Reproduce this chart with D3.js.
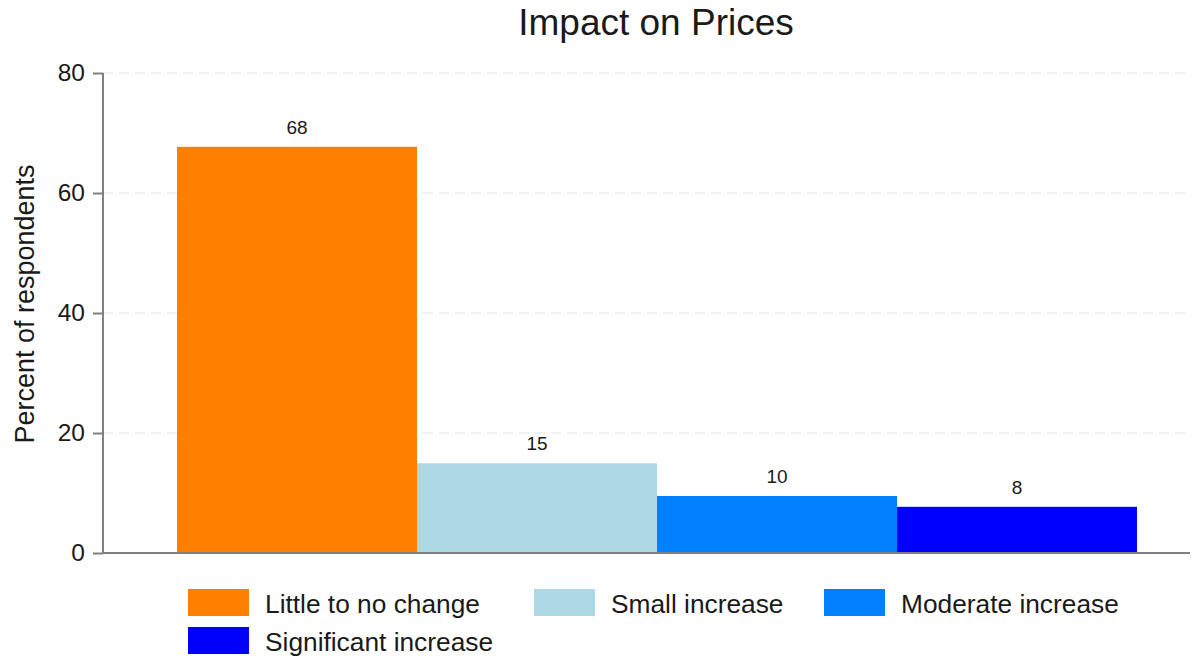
<!DOCTYPE html>
<html>
<head>
<meta charset="utf-8">
<script src="https://cdn.jsdelivr.net/npm/d3@7"></script>
<style>
  body { margin: 0; background: #fff; }
  text { font-family: "Liberation Sans", Arial, sans-serif; fill: #1a1a1a; }
</style>
</head>
<body>
<div id="chart"></div>
<script>
// data
var categories = ["Little to no change", "Small increase", "Moderate increase", "Significant increase"];
var values = [67.7, 14.95, 9.5, 7.7];
var colors = ["#ff7f00", "#add8e6", "#0080ff", "#0000ff"];
var yTicks = [0, 20, 40, 60, 80];

var W = 1192, H = 658;
var svg = d3.select("#chart").append("svg")
    .attr("width", W)
    .attr("height", H);

// plot region
var plotLeft = 103, plotRight = 1190, plotTop = 73, plotBottom = 553;

var x = d3.scaleBand().domain(categories).range([177, 1137]).padding(0);
var y = d3.scaleLinear().domain([0, 80]).range([plotBottom, plotTop]);

// gridlines
svg.append("g")
  .selectAll("line")
  .data(yTicks.filter(function(d) { return d > 0; }))
  .enter().append("line")
    .attr("x1", plotLeft).attr("x2", plotRight)
    .attr("y1", function(d) { return y(d); })
    .attr("y2", function(d) { return y(d); })
    .attr("stroke", "#ebebeb")
    .attr("stroke-width", 1.5)
    .attr("stroke-dasharray", "10,6");

// bars
svg.append("g")
  .selectAll("rect")
  .data(values)
  .enter().append("rect")
    .attr("x", function(d, i) { return x(categories[i]); })
    .attr("y", function(d) { return y(d); })
    .attr("width", x.bandwidth())
    .attr("height", function(d) { return y(0) - y(d); })
    .attr("fill", function(d, i) { return colors[i]; });

// value labels
svg.append("g")
  .selectAll("text")
  .data(values)
  .enter().append("text")
    .attr("x", function(d, i) { return x(categories[i]) + x.bandwidth() / 2; })
    .attr("y", function(d) { return y(d) - 13; })
    .attr("text-anchor", "middle")
    .style("font-size", "19px")
    .text(function(d) { return Math.round(d); });

// y axis
var yAxis = svg.append("g")
  .attr("transform", "translate(" + plotLeft + ",0)")
  .call(d3.axisLeft(y).tickValues(yTicks).tickSize(10).tickPadding(8));
yAxis.select(".domain").attr("stroke", "#808080").attr("stroke-width", 2)
  .attr("d", "M0," + plotTop + "V" + plotBottom);
yAxis.selectAll(".tick line").attr("stroke", "#808080").attr("stroke-width", 2);
yAxis.selectAll(".tick text").style("font-size", "24.5px")
  .style("font-family", "Liberation Sans, Arial, sans-serif").attr("fill", "#1a1a1a");

// x axis line
svg.append("line")
  .attr("x1", plotLeft).attr("x2", plotRight)
  .attr("y1", plotBottom).attr("y2", plotBottom)
  .attr("stroke", "#808080")
  .attr("stroke-width", 2);

// y title
svg.append("text")
  .attr("transform", "translate(34,304) rotate(-90)")
  .attr("text-anchor", "middle")
  .style("font-size", "27px")
  .text("Percent of respondents");

// title
svg.append("text")
  .attr("x", 656).attr("y", 35)
  .attr("text-anchor", "middle")
  .style("font-size", "37px")
  .text("Impact on Prices");

// legend
var legendPos = [[188, 589], [534, 589], [824, 589], [188, 627]];
var lg = svg.append("g").selectAll("g")
  .data(categories)
  .enter().append("g")
    .attr("transform", function(d, i) { return "translate(" + legendPos[i][0] + "," + legendPos[i][1] + ")"; });
lg.append("rect")
  .attr("width", 61).attr("height", 27)
  .attr("fill", function(d, i) { return colors[i]; });
lg.append("text")
  .attr("x", 77).attr("y", 24)
  .style("font-size", "26.3px")
  .text(function(d) { return d; });
</script>
</body>
</html>
